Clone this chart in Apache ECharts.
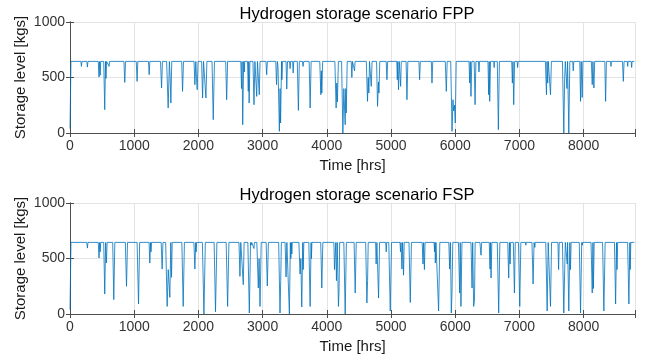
<!DOCTYPE html>
<html>
<head>
<meta charset="utf-8">
<script src="https://cdn.jsdelivr.net/npm/echarts@6/dist/echarts.min.js"></script>
<style>
  html, body { margin: 0; padding: 0; background: #fff; }
  #chart { width: 648px; height: 362px; }
</style>
</head>
<body>
<div id="chart"></div>
<script>
// hourly storage level as [hour, kg] break points
const fppPoints = [
  [0, 40], [15, 645],
  [170, 645], [178, 600], [186, 645],
  [262, 645], [271, 594], [280, 645],
  [440, 645], [452, 504], [460, 645], [470, 520], [478, 645],
  [525, 645], [541, 210], [553, 645], [560, 491], [570, 645],
  [600, 645], [609, 600], [616, 645],
  [840, 645], [853, 456], [865, 645],
  [1032, 645], [1045, 465], [1056, 645],
  [1222, 645], [1233, 525], [1244, 645],
  [1410, 645], [1426, 405], [1440, 645],
  [1505, 645], [1529, 225], [1548, 645], [1560, 500], [1571, 270], [1585, 645],
  [1740, 645], [1753, 375], [1768, 645],
  [1932, 645], [1945, 435], [1960, 645], [1970, 500], [1981, 390], [1995, 645],
  [2050, 645], [2065, 315], [2080, 645], [2100, 645], [2117, 315], [2132, 645],
  [2212, 645], [2231, 120], [2250, 645],
  [2425, 645], [2440, 300], [2455, 645],
  [2660, 645], [2672, 400], [2680, 645], [2690, 75], [2705, 645], [2715, 550], [2722, 645],
  [2765, 645], [2777, 375], [2784, 645], [2790, 270], [2802, 645],
  [2850, 645], [2866, 255], [2880, 645], [2900, 645], [2908, 330], [2920, 645],
  [2940, 645], [2948, 345], [2960, 645],
  [3052, 645], [3063, 525], [3074, 645],
  [3205, 645], [3217, 435], [3230, 645], [3240, 600], [3261, 15], [3272, 400], [3280, 90],
  [3295, 645], [3300, 480], [3310, 645],
  [3365, 645], [3376, 396], [3388, 645],
  [3420, 645], [3428, 580], [3436, 645], [3468, 645], [3476, 540], [3484, 645],
  [3540, 645], [3557, 204], [3572, 645],
  [3620, 645], [3630, 600], [3640, 645],
  [3725, 645], [3740, 225], [3756, 645],
  [3890, 645], [3907, 345], [3915, 560], [3922, 360], [3935, 645],
  [4125, 645], [4145, 225], [4155, 450], [4165, 280], [4180, 645],
  [4230, 645], [4250, 0], [4265, 400], [4286, 75], [4295, 400], [4302, 180], [4318, 645],
  [4380, 645], [4390, 500], [4400, 645], [4425, 645], [4432, 560], [4440, 645],
  [4615, 645], [4634, 285], [4645, 500], [4655, 360], [4665, 645],
  [4680, 645], [4692, 420], [4705, 645],
  [4775, 645], [4790, 240], [4805, 460], [4812, 360], [4825, 645],
  [4925, 645], [4936, 480], [4948, 645],
  [5090, 645], [5098, 480], [5105, 645], [5110, 645], [5117, 390], [5128, 645],
  [5140, 645], [5150, 420], [5160, 645], [5235, 645], [5248, 300], [5262, 645],
  [5435, 645], [5445, 480], [5456, 645],
  [5628, 645], [5638, 450], [5650, 645],
  [5845, 645], [5861, 375], [5875, 645],
  [5930, 645], [5950, 15], [5965, 300], [5975, 200], [5988, 250], [6001, 90], [6015, 645],
  [6215, 645], [6225, 450], [6235, 645], [6245, 330], [6258, 645],
  [6295, 645], [6309, 255], [6322, 645],
  [6362, 645], [6370, 550], [6378, 645],
  [6510, 645], [6521, 345], [6530, 645], [6537, 285], [6550, 645],
  [6600, 645], [6606, 590], [6612, 645],
  [6655, 645], [6672, 30], [6688, 645],
  [6880, 645], [6890, 450], [6900, 645], [6911, 255], [6925, 645],
  [6965, 645], [6972, 590], [6980, 645],
  [7405, 645], [7421, 345], [7430, 645], [7440, 450], [7450, 645],
  [7470, 645], [7484, 345], [7498, 645],
  [7670, 645], [7691, 0], [7705, 500], [7715, 645], [7725, 645], [7740, 400], [7750, 645],
  [7755, 645], [7769, 0], [7785, 645],
  [7830, 645], [7838, 560], [7846, 645],
  [7940, 645], [7952, 285], [7962, 645], [7970, 645], [7978, 320], [7988, 645],
  [8120, 645], [8134, 435], [8145, 645], [8150, 645], [8160, 405], [8172, 645],
  [8330, 645], [8342, 285], [8355, 645],
  [8420, 645], [8426, 600], [8432, 645],
  [8605, 645], [8618, 465], [8630, 645],
  [8680, 645], [8686, 600], [8692, 645], [8740, 645], [8748, 590], [8755, 645],
  [8790, 645]
];

const fspPoints = [
  [0, 40], [15, 645],
  [262, 645], [271, 594], [280, 645],
  [440, 645], [452, 505], [462, 645], [470, 560], [478, 645],
  [525, 645], [541, 180], [555, 645], [567, 460], [578, 645],
  [665, 645], [682, 129], [698, 645],
  [862, 645], [880, 249], [896, 645],
  [1045, 645], [1067, 90], [1085, 645],
  [1232, 645], [1243, 459], [1255, 645], [1262, 560], [1270, 645],
  [1420, 645], [1435, 405], [1448, 645],
  [1490, 645], [1513, 68], [1530, 400], [1555, 150], [1570, 645], [1581, 330], [1592, 645],
  [1742, 645], [1763, 68], [1782, 645],
  [1930, 645], [1945, 405], [1958, 645], [1965, 560], [1972, 645],
  [2062, 645], [2086, 0], [2108, 645],
  [2245, 645], [2266, 20], [2288, 645],
  [2432, 645], [2455, 68], [2475, 645],
  [2632, 645], [2647, 339], [2660, 645], [2685, 645], [2699, 264], [2712, 645],
  [2770, 645], [2793, 9], [2812, 645], [2822, 620], [2830, 645],
  [2860, 645], [2866, 590], [2872, 645],
  [2910, 645], [2933, 234], [2945, 500], [2960, 68], [2978, 645],
  [3055, 645], [3073, 252], [3090, 645],
  [3250, 645], [3271, 9], [3282, 300], [3292, 645],
  [3350, 645], [3365, 333], [3378, 645], [3398, 645], [3417, 0], [3432, 645],
  [3440, 500], [3448, 645], [3455, 540], [3462, 645],
  [3565, 645], [3583, 360], [3595, 500], [3610, 63], [3625, 645], [3632, 400], [3642, 645],
  [3720, 645], [3740, 68], [3755, 645], [3760, 500], [3768, 645],
  [3905, 645], [3922, 234], [3938, 645],
  [4110, 645], [4120, 400], [4140, 645], [4150, 300], [4162, 645], [4181, 68], [4190, 200], [4200, 645],
  [4265, 645], [4286, 0], [4305, 645],
  [4425, 645], [4442, 189], [4458, 645],
  [4605, 645], [4624, 99], [4635, 300], [4645, 645],
  [4760, 645], [4768, 450], [4780, 645], [4806, 144], [4822, 645],
  [4918, 645], [4925, 560], [4932, 645],
  [4965, 645], [4988, 27], [5008, 645],
  [5140, 645], [5148, 560], [5156, 645], [5170, 405], [5180, 645],
  [5185, 645], [5195, 350], [5205, 645],
  [5280, 645], [5300, 104], [5318, 645],
  [5485, 645], [5498, 450], [5508, 645], [5512, 645], [5520, 400], [5530, 645],
  [5670, 645], [5678, 560], [5685, 645], [5690, 460], [5700, 645],
  [5720, 645], [5741, 27], [5760, 645],
  [5900, 645], [5913, 405], [5925, 645], [5939, 9], [5950, 200], [5962, 645],
  [6050, 645], [6069, 189], [6078, 645], [6089, 68], [6105, 645],
  [6245, 645], [6262, 234], [6272, 645], [6287, 68], [6300, 120], [6310, 645],
  [6385, 645], [6395, 570], [6402, 530], [6412, 645],
  [6530, 645], [6542, 405], [6550, 645], [6558, 324], [6570, 645],
  [6655, 645], [6677, 9], [6695, 645],
  [6818, 645], [6833, 324], [6845, 645], [6855, 450], [6862, 645],
  [6905, 645], [6922, 189], [6935, 645],
  [6985, 645], [7005, 68], [7022, 645],
  [7095, 645], [7100, 620], [7105, 645],
  [7195, 645], [7213, 270], [7228, 645], [7240, 600], [7246, 645],
  [7410, 645], [7432, 27], [7448, 645], [7470, 645], [7484, 68], [7500, 645],
  [7600, 645], [7610, 400], [7620, 645],
  [7670, 645], [7691, 9], [7705, 400], [7715, 645], [7730, 645], [7745, 450], [7750, 645],
  [7752, 645], [7769, 27], [7785, 645], [7795, 400], [7805, 645],
  [7932, 645], [7952, 9], [7970, 645], [7980, 620], [7985, 645],
  [8115, 645], [8134, 189], [8145, 645], [8152, 230], [8165, 645],
  [8295, 645], [8315, 27], [8335, 645],
  [8480, 645], [8498, 90], [8512, 645], [8520, 400], [8530, 645],
  [8685, 645], [8705, 90], [8720, 645], [8725, 400], [8735, 645],
  [8790, 645]
];

const titles = ['Hydrogen storage scenario FPP', 'Hydrogen storage scenario FSP'];

const fontFamily = 'Liberation Sans, Arial, sans-serif';
const boxColor = '#4d4d4d';
const gridLine = '#e3e3e3';

const chart = echarts.init(document.getElementById('chart'));

const gridTops = [22, 203];

// main axes (bottom/left) plus tick-only axes on top/right to close the box
const xAxes = [];
const yAxes = [];
gridTops.forEach((top, i) => {
  xAxes.push({
    type: 'value', gridIndex: i, min: 0, max: 8800, interval: 1000,
    name: 'Time [hrs]', nameLocation: 'middle', nameGap: 25,
    nameTextStyle: { fontSize: 15, color: '#1a1a1a', fontFamily },
    axisLine: { show: true, lineStyle: { color: boxColor, width: 1 } },
    axisTick: { show: true, inside: true, length: 4, lineStyle: { color: boxColor } },
    axisLabel: { fontSize: 14, color: '#333', margin: 6, fontFamily,
      formatter: v => (v > 8000 ? '' : String(v)) },
    splitLine: { show: true, lineStyle: { color: gridLine, width: 1 } }
  });
  xAxes.push({
    type: 'value', gridIndex: i, min: 0, max: 8800, interval: 1000, position: 'top',
    axisLine: { show: true, lineStyle: { color: boxColor, width: 1 } },
    axisTick: { show: true, inside: true, length: 4, lineStyle: { color: boxColor } },
    axisLabel: { show: false }, splitLine: { show: false }
  });
  yAxes.push({
    type: 'value', gridIndex: i, min: 0, max: 1000, interval: 500,
    name: 'Storage level [kgs]', nameLocation: 'middle', nameGap: 42,
    nameMoveOverlap: false,
    nameTextStyle: { fontSize: 15, color: '#1a1a1a', fontFamily },
    axisLine: { show: true, lineStyle: { color: boxColor, width: 1 } },
    axisTick: { show: true, inside: true, length: 4, lineStyle: { color: boxColor } },
    axisLabel: { fontSize: 14, color: '#333', margin: 5, fontFamily,
      formatter: v => String(v) },
    splitLine: { show: true, lineStyle: { color: gridLine, width: 1 } }
  });
  yAxes.push({
    type: 'value', gridIndex: i, min: 0, max: 1000, interval: 500, position: 'right',
    axisLine: { show: true, lineStyle: { color: boxColor, width: 1 } },
    axisTick: { show: true, inside: true, length: 4, lineStyle: { color: boxColor } },
    axisLabel: { show: false }, splitLine: { show: false }
  });
});

chart.setOption({
  animation: false,
  backgroundColor: '#fff',
  title: titles.map((t, i) => ({
    text: t, left: 352, top: gridTops[i] - 21, textAlign: 'center',
    textStyle: { fontSize: 16.5, fontWeight: 'normal', color: '#000', fontFamily }
  })),
  grid: gridTops.map(top => ({ left: 70, top: top, width: 565, height: 111 })),
  xAxis: xAxes,
  yAxis: yAxes,
  series: [fppPoints, fspPoints].map((pts, i) => ({
    type: 'line',
    xAxisIndex: i * 2,
    yAxisIndex: i * 2,
    data: pts,
    showSymbol: false,
    lineStyle: { color: '#0072BD', width: 0.8 }
  }))
});
</script>
</body>
</html>
